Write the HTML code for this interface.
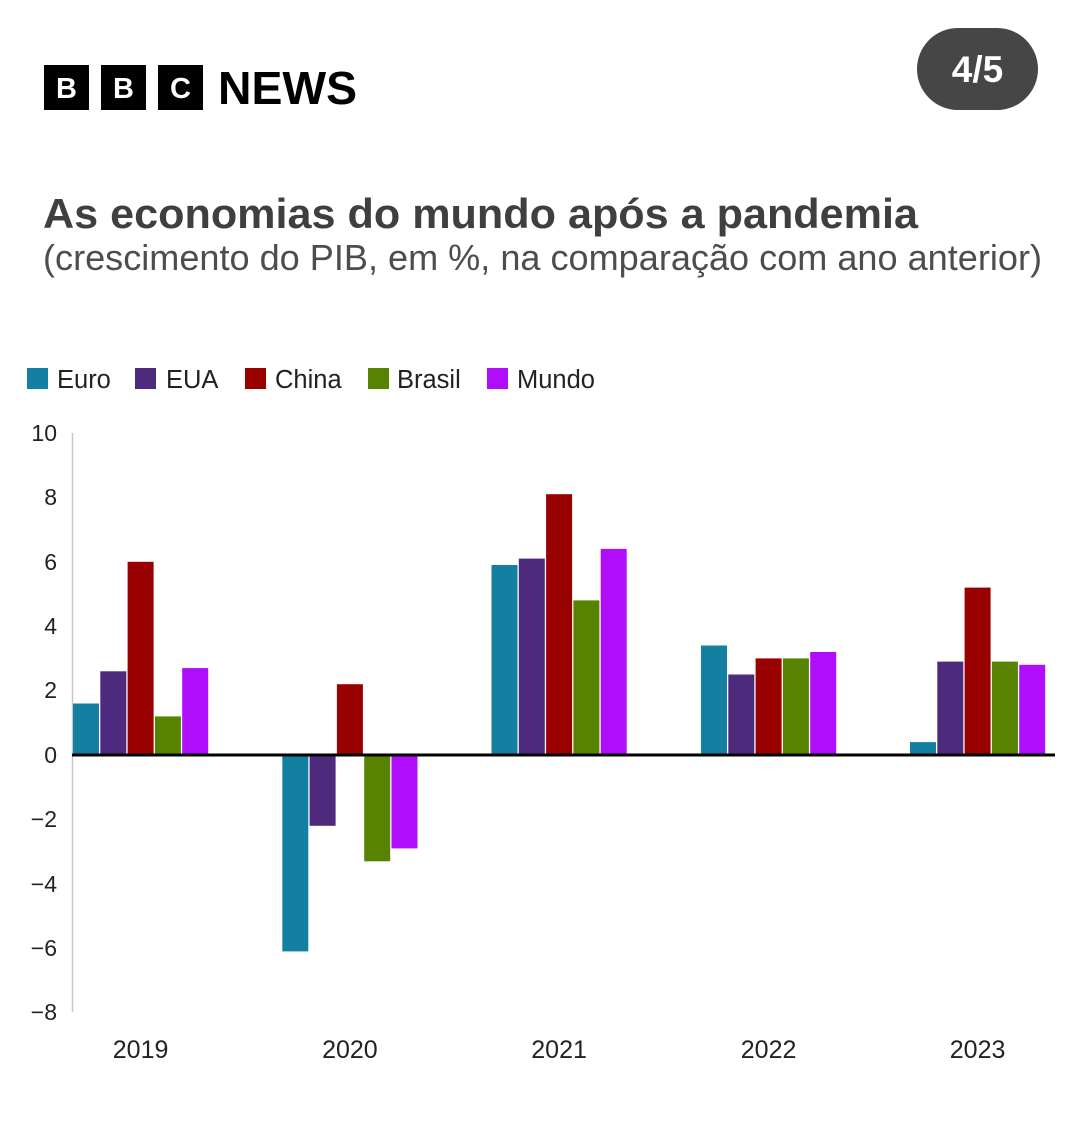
<!DOCTYPE html>
<html>
<head>
<meta charset="utf-8">
<style>
html,body{margin:0;padding:0;background:#fff;}
svg{display:block;}
text{font-family:"Liberation Sans",Arial,sans-serif;}
</style>
</head>
<body>
<svg width="1080" height="1145" viewBox="0 0 1080 1145" xmlns="http://www.w3.org/2000/svg">
  <rect width="1080" height="1145" fill="#ffffff"/>

  <!-- BBC NEWS logo -->
  <rect x="44" y="65" width="45" height="45" fill="#000"/>
  <rect x="101" y="65" width="45" height="45" fill="#000"/>
  <rect x="158" y="65" width="45" height="45" fill="#000"/>
  <text x="66.5" y="98" font-size="29" font-weight="bold" fill="#fff" text-anchor="middle">B</text>
  <text x="123.5" y="98" font-size="29" font-weight="bold" fill="#fff" text-anchor="middle">B</text>
  <text x="180.5" y="98" font-size="29" font-weight="bold" fill="#fff" text-anchor="middle">C</text>
  <text x="218" y="104" font-size="46" font-weight="bold" fill="#000" textLength="139" lengthAdjust="spacingAndGlyphs">NEWS</text>

  <!-- page pill -->
  <rect x="917" y="28" width="121" height="82" rx="41" ry="41" fill="#464646"/>
  <text x="977.5" y="82" font-size="37" font-weight="bold" fill="#fff" text-anchor="middle">4/5</text>

  <!-- Title -->
  <text x="43" y="228" font-size="42" font-weight="bold" fill="#3f3f3f" textLength="875" lengthAdjust="spacingAndGlyphs">As economias do mundo após a pandemia</text>
  <text x="43" y="270" font-size="36" fill="#4d4d4d" textLength="999" lengthAdjust="spacingAndGlyphs">(crescimento do PIB, em %, na comparação com ano anterior)</text>

  <!-- Legend -->
  <g font-size="25.5" fill="#222">
    <rect x="27" y="368" width="21" height="21" fill="#1380a1"/>
    <text x="57" y="388">Euro</text>
    <rect x="135" y="368" width="21" height="21" fill="#4e2a7e"/>
    <text x="166" y="388">EUA</text>
    <rect x="245" y="368" width="21" height="21" fill="#990000"/>
    <text x="275" y="388">China</text>
    <rect x="368" y="368" width="21" height="21" fill="#588300"/>
    <text x="397" y="388">Brasil</text>
    <rect x="487" y="368" width="21" height="21" fill="#b00dfb"/>
    <text x="517" y="388">Mundo</text>
  </g>

  <!-- Y axis -->
  <line x1="72.5" y1="433" x2="72.5" y2="1012" stroke="#c8c8c8" stroke-width="1.5"/>
  <g font-size="23" fill="#222" text-anchor="end">
    <text x="57" y="441">10</text>
    <text x="57" y="505">8</text>
    <text x="57" y="570">6</text>
    <text x="57" y="634">4</text>
    <text x="57" y="698">2</text>
    <text x="57" y="763">0</text>
    <text x="57" y="827">−2</text>
    <text x="57" y="892">−4</text>
    <text x="57" y="956">−6</text>
    <text x="57" y="1020">−8</text>
  </g>

  <!-- Bars: y = 755 - v*32.2 -->
  <!-- 2019 -->
  <rect x="73" y="703.5" width="26" height="51.5" fill="#1380a1"/>
  <rect x="100.3" y="671.3" width="26" height="83.7" fill="#4e2a7e"/>
  <rect x="127.6" y="561.8" width="26" height="193.2" fill="#990000"/>
  <rect x="154.9" y="716.4" width="26" height="38.6" fill="#588300"/>
  <rect x="182.2" y="668.1" width="26" height="86.9" fill="#b00dfb"/>
  <!-- 2020 -->
  <rect x="282.3" y="755" width="26" height="196.4" fill="#1380a1"/>
  <rect x="309.6" y="755" width="26" height="70.8" fill="#4e2a7e"/>
  <rect x="336.9" y="684.2" width="26" height="70.8" fill="#990000"/>
  <rect x="364.2" y="755" width="26" height="106.3" fill="#588300"/>
  <rect x="391.5" y="755" width="26" height="93.4" fill="#b00dfb"/>
  <!-- 2021 -->
  <rect x="491.5" y="565" width="26" height="190" fill="#1380a1"/>
  <rect x="518.8" y="558.6" width="26" height="196.4" fill="#4e2a7e"/>
  <rect x="546.1" y="494.2" width="26" height="260.8" fill="#990000"/>
  <rect x="573.4" y="600.4" width="26" height="154.6" fill="#588300"/>
  <rect x="600.7" y="548.9" width="26" height="206.1" fill="#b00dfb"/>
  <!-- 2022 -->
  <rect x="701" y="645.5" width="26" height="109.5" fill="#1380a1"/>
  <rect x="728.3" y="674.5" width="26" height="80.5" fill="#4e2a7e"/>
  <rect x="755.6" y="658.4" width="26" height="96.6" fill="#990000"/>
  <rect x="782.9" y="658.4" width="26" height="96.6" fill="#588300"/>
  <rect x="810.2" y="652" width="26" height="103" fill="#b00dfb"/>
  <!-- 2023 -->
  <rect x="910" y="742.1" width="26" height="12.9" fill="#1380a1"/>
  <rect x="937.3" y="661.6" width="26" height="93.4" fill="#4e2a7e"/>
  <rect x="964.6" y="587.6" width="26" height="167.4" fill="#990000"/>
  <rect x="991.9" y="661.6" width="26" height="93.4" fill="#588300"/>
  <rect x="1019.2" y="664.8" width="26" height="90.2" fill="#b00dfb"/>

  <!-- Zero line -->
  <line x1="72" y1="755" x2="1055" y2="755" stroke="#000" stroke-width="3"/>

  <!-- X labels -->
  <g font-size="25" fill="#222" text-anchor="middle">
    <text x="140.6" y="1058">2019</text>
    <text x="349.9" y="1058">2020</text>
    <text x="559.1" y="1058">2021</text>
    <text x="768.6" y="1058">2022</text>
    <text x="977.6" y="1058">2023</text>
  </g>
</svg>
</body>
</html>
